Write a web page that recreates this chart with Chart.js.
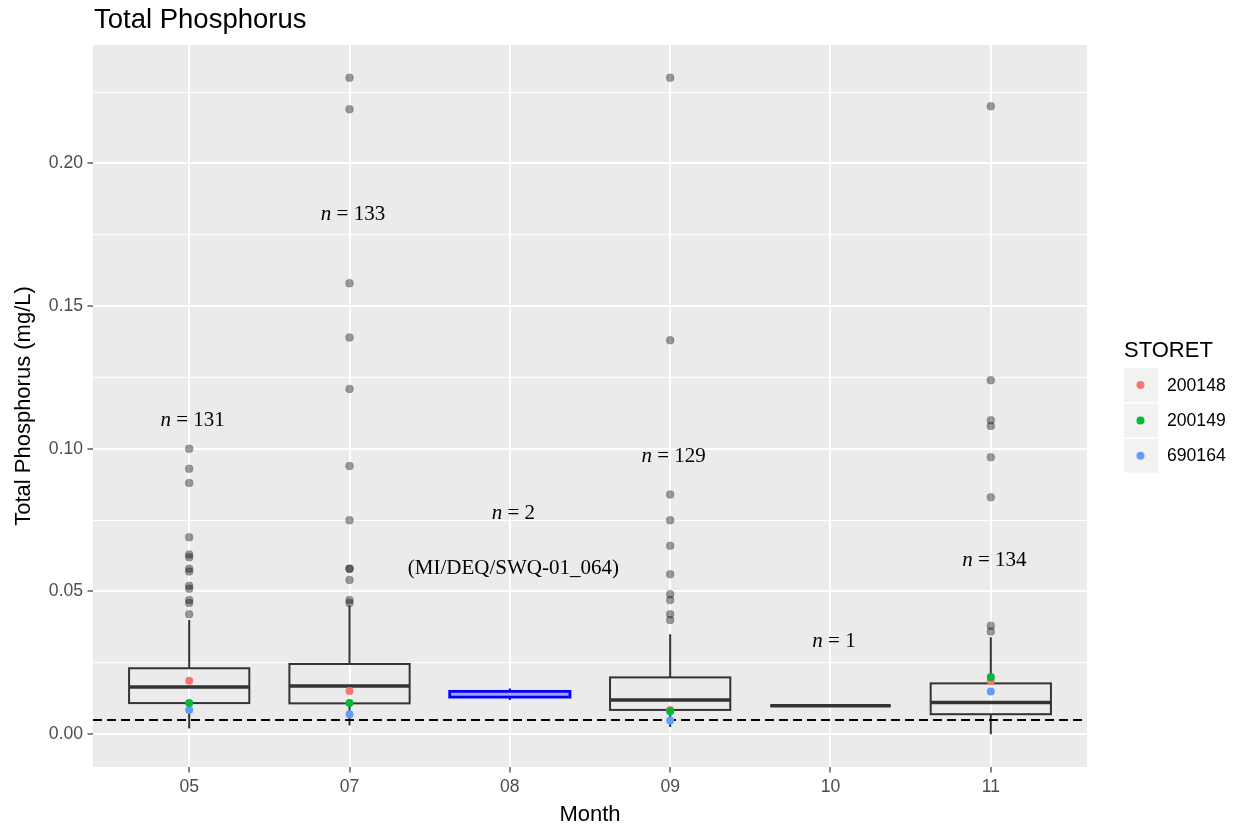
<!DOCTYPE html>
<html>
<head>
<meta charset="utf-8">
<title>Total Phosphorus</title>
<script src="https://cdn.jsdelivr.net/npm/chart.js@4.4.1/dist/chart.umd.min.js"></script>
<style>
  html, body { margin: 0; padding: 0; background: #fff; }
  #wrap { width: 1238px; height: 830px; position: relative; }
</style>
</head>
<body>
<div id="wrap"><canvas id="chart"></canvas></div>
<script>
// months sampled and number of samples in each
var months = ['05', '07', '08', '09', '10', '11'];
var counts = [131, 133, 2, 129, 1, 134];

// box statistics per month (mg/L)
var whiskerLow  = [0.0020, 0.0030, 0.0120, 0.0025, 0.0100, 0.0000];
var q1          = [0.0109, 0.0108, 0.0130, 0.0085, 0.0100, 0.0070];
var median      = [0.0165, 0.0169, 0.0140, 0.0120, 0.0100, 0.0111];
var q3          = [0.0231, 0.0246, 0.0150, 0.0199, 0.0100, 0.0178];
var whiskerHigh = [0.0400, 0.0450, 0.0160, 0.0350, 0.0100, 0.0340];

// outliers beyond the whiskers
var outliers05 = [0.100, 0.093, 0.088, 0.069, 0.063, 0.062, 0.058, 0.057, 0.052, 0.051, 0.047, 0.046, 0.042];
var outliers07 = [0.230, 0.219, 0.158, 0.139, 0.121, 0.094, 0.075, 0.058, 0.058, 0.054, 0.047, 0.046];
var outliers08 = [];
var outliers09 = [0.230, 0.138, 0.084, 0.075, 0.066, 0.056, 0.049, 0.047, 0.042, 0.040];
var outliers10 = [];
var outliers11 = [0.220, 0.124, 0.110, 0.108, 0.097, 0.083, 0.038, 0.036];
var outliers = [outliers05, outliers07, outliers08, outliers09, outliers10, outliers11];

// station values per month
var storetNames = ['200148', '200149', '690164'];
var storet200148 = [0.0187, 0.0151, null, 0.0085, null, 0.0186];
var storet200149 = [0.0109, 0.0109, null, 0.0080, null, 0.0200];
var storet690164 = [0.0085, 0.0070, null, 0.0048, null, 0.0150];
var storetColors = ['#F8766D', '#00BA38', '#619CFF'];

var detectionLimit = 0.005;

// where the "n = " labels sit
var nLabelY = [0.110, 0.182, 0.0774, 0.0974, 0.0326, 0.061];
var noteMonth = '08';
var noteText = '(MI/DEQ/SWQ-01_064)';
var noteY = 0.0581;

var yMajor = [0, 0.05, 0.10, 0.15, 0.20];
var yMinor = [0.025, 0.075, 0.125, 0.175, 0.225];

var titleText = 'Total Phosphorus';
var legendTitle = 'STORET';

var SANS = '"Liberation Sans", Arial, sans-serif';
var SERIF = '"Liberation Serif", "Times New Roman", serif';

function toPoints(values) {
  var pts = [];
  values.forEach(function (v, i) {
    if (v !== null) pts.push({ x: i, y: v });
  });
  return pts;
}

var outlierPoints = [];
outliers.forEach(function (list, i) {
  list.forEach(function (v) { outlierPoints.push({ x: i, y: v }); });
});

var storetSeries = [storet200148, storet200149, storet690164];
var storetOrder = [3, 1, 2];

var datasets = [{
  label: 'outliers',
  data: outlierPoints,
  pointRadius: 4,
  pointBackgroundColor: 'rgba(0,0,0,0.38)',
  pointBorderColor: 'rgba(0,0,0,0.12)',
  pointBorderWidth: 1,
  order: 10
}];
storetSeries.forEach(function (s, k) {
  datasets.push({
    label: storetNames[k],
    data: toPoints(s),
    pointRadius: 4,
    pointBackgroundColor: storetColors[k],
    pointBorderWidth: 0,
    order: storetOrder[k]
  });
});

// boxes, whiskers, reference line, labels and legend
var boxPlot = {
  id: 'boxPlot',
  beforeDraw: function (chart) {
    var a = chart.chartArea, ctx = chart.ctx;
    ctx.save();
    ctx.fillStyle = '#EBEBEB';
    ctx.fillRect(a.left, a.top, a.right - a.left, a.bottom - a.top);
    ctx.restore();
  },
  beforeDatasetsDraw: function (chart) {
    var xs = chart.scales.x, ys = chart.scales.y, ctx = chart.ctx, a = chart.chartArea;
    ctx.save();
    months.forEach(function (m, i) {
      var cx = xs.getPixelForValue(i);
      var left = xs.getPixelForValue(i - 0.375);
      var right = xs.getPixelForValue(i + 0.375);
      var top = ys.getPixelForValue(q3[i]);
      var bot = ys.getPixelForValue(q1[i]);
      var hi = m === noteMonth;
      ctx.strokeStyle = hi ? '#0000FF' : '#333333';
      ctx.lineWidth = 2;
      ctx.beginPath();
      ctx.moveTo(cx, top); ctx.lineTo(cx, ys.getPixelForValue(whiskerHigh[i]));
      ctx.moveTo(cx, bot); ctx.lineTo(cx, ys.getPixelForValue(whiskerLow[i]));
      ctx.stroke();
      if (hi) {
        ctx.fillStyle = 'rgba(0,0,255,0.3)';
        ctx.fillRect(left, top, right - left, bot - top);
        ctx.lineWidth = 2.8;
      }
      ctx.strokeRect(left, top, right - left, bot - top);
      if (!hi) {
        var my = ys.getPixelForValue(median[i]);
        ctx.lineWidth = 3.5;
        ctx.beginPath();
        ctx.moveTo(left, my); ctx.lineTo(right, my);
        ctx.stroke();
      }
    });
    var dy = ys.getPixelForValue(detectionLimit);
    ctx.strokeStyle = '#000';
    ctx.lineWidth = 2;
    ctx.setLineDash([9, 5]);
    ctx.beginPath();
    ctx.moveTo(a.left, dy); ctx.lineTo(a.right, dy);
    ctx.stroke();
    ctx.restore();
  },
  afterDraw: function (chart) {
    var xs = chart.scales.x, ys = chart.scales.y, ctx = chart.ctx, a = chart.chartArea;
    ctx.save();

    // plot title
    ctx.fillStyle = '#000';
    ctx.font = '27.5px ' + SANS;
    ctx.textAlign = 'left';
    ctx.textBaseline = 'alphabetic';
    ctx.fillText(titleText, a.left + 1, a.top - 17);

    // n = ... labels, italic n
    ctx.textBaseline = 'middle';
    var italic = 'italic 21px ' + SERIF, upright = '21px ' + SERIF;
    months.forEach(function (m, i) {
      var rest = ' = ' + counts[i];
      ctx.font = italic;
      var w1 = ctx.measureText('n').width;
      ctx.font = upright;
      var w2 = ctx.measureText(rest).width;
      var x0 = xs.getPixelForValue(i) - (w1 + w2) / 2 + 3.5;
      var y0 = ys.getPixelForValue(nLabelY[i]);
      ctx.textAlign = 'left';
      ctx.font = italic;
      ctx.fillText('n', x0, y0);
      ctx.font = upright;
      ctx.fillText(rest, x0 + w1, y0);
    });
    ctx.textAlign = 'center';
    ctx.font = upright;
    ctx.fillText(noteText, xs.getPixelForValue(months.indexOf(noteMonth)) + 3.5, ys.getPixelForValue(noteY));

    // legend
    var lx = a.right + 37;
    var key = 35.3;
    var keyTop = (a.top + a.bottom) / 2 - 37.7;
    ctx.textAlign = 'left';
    ctx.fillStyle = '#000';
    ctx.font = '22px ' + SANS;
    ctx.fillText(legendTitle, lx, keyTop - 17);
    storetNames.forEach(function (name, k) {
      var ty = keyTop + k * key;
      ctx.fillStyle = '#F2F2F2';
      ctx.fillRect(lx, ty, key - 1.5, key - 1.5);
      ctx.fillStyle = storetColors[k];
      ctx.beginPath();
      ctx.arc(lx + 16.5, ty + 16.8, 4, 0, Math.PI * 2);
      ctx.fill();
      ctx.fillStyle = '#000';
      ctx.font = '17.6px ' + SANS;
      ctx.fillText(name, lx + 43, ty + 17.5);
    });
    ctx.restore();
  }
};

var ctx = document.getElementById('chart').getContext('2d');
var myChart = new Chart(ctx, {
  type: 'scatter',
  data: { datasets: datasets },
  plugins: [boxPlot],
  options: {
    responsive: true,
    maintainAspectRatio: false,
    animation: false,
    layout: { padding: { top: 45, right: 151, bottom: 0, left: 0 } },
    scales: {
      x: {
        type: 'linear',
        min: -0.6,
        max: 5.6,
        afterFit: function (s) { s.height = 63; },
        afterBuildTicks: function (s) {
          s.ticks = months.map(function (m, i) { return { value: i }; });
        },
        ticks: {
          autoSkip: false,
          maxRotation: 0,
          padding: 4.4,
          color: '#4D4D4D',
          font: { family: SANS, size: 17.6 },
          callback: function (v) { return months[v]; }
        },
        grid: { color: '#FFFFFF', lineWidth: 2, tickColor: '#333333', tickLength: 5.5, tickWidth: 1.2 },
        border: { display: false },
        title: {
          display: true,
          text: 'Month',
          color: '#000',
          font: { family: SANS, size: 22 },
          padding: { top: 0, bottom: 2 }
        }
      },
      y: {
        type: 'linear',
        min: -0.0115,
        max: 0.2415,
        afterFit: function (s) { s.width = 93; },
        afterBuildTicks: function (s) {
          s.ticks = yMajor.concat(yMinor)
            .sort(function (p, q) { return p - q; })
            .map(function (v) { return { value: v }; });
        },
        ticks: {
          autoSkip: false,
          padding: 4.4,
          color: '#4D4D4D',
          font: { family: SANS, size: 17.6 },
          callback: function (v) { return yMajor.indexOf(v) >= 0 ? v.toFixed(2) : ''; }
        },
        grid: {
          color: '#FFFFFF',
          lineWidth: function (c) { return c.tick && yMajor.indexOf(c.tick.value) >= 0 ? 2 : 1; },
          tickColor: function (c) { return c.tick && yMajor.indexOf(c.tick.value) >= 0 ? '#333333' : 'rgba(0,0,0,0)'; },
          tickLength: 5.5,
          tickWidth: 1.2
        },
        border: { display: false },
        title: {
          display: true,
          text: 'Total Phosphorus (mg/L)',
          color: '#000',
          font: { family: SANS, size: 22 },
          padding: { top: 11, bottom: 0 }
        }
      }
    },
    plugins: {
      legend: { display: false },
      tooltip: { enabled: false }
    }
  }
});
</script>
</body>
</html>
